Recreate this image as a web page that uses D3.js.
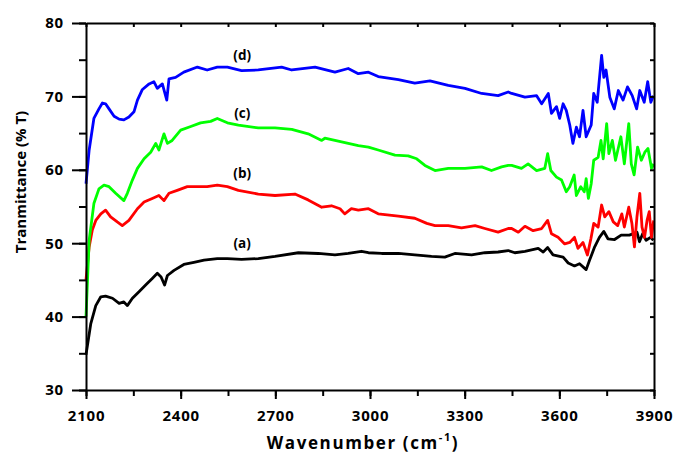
<!DOCTYPE html>
<html lang="en">
<head>
<meta charset="UTF-8">
<title>Transmittance spectra</title>
<script src="https://d3js.org/d3.v7.min.js"></script>
<style>
    body { margin: 0; background: #fff; }
    svg text { font-family: 'Open Sans', 'DejaVu Sans', sans-serif; font-weight: bold; }
</style>
</head>
<body>
<div id="chart"></div>
<script>
// wavenumber / transmittance pairs
var curveA = [[2100,34.8],[2115,39.0],[2131,41.5],[2147,42.7],[2162,42.8],[2184,42.5],[2205,41.8],[2220,42.0],[2231,41.5],[2247,42.5],[2268,43.4],[2289,44.3],[2310,45.2],[2326,45.9],[2338,45.4],[2349,44.3],[2358,45.6],[2379,46.3],[2410,47.1],[2442,47.4],[2474,47.7],[2516,47.9],[2548,47.9],[2593,47.8],[2646,47.9],[2699,48.2],[2773,48.7],[2836,48.6],[2889,48.4],[2931,48.6],[2973,48.9],[2995,48.7],[3037,48.6],[3090,48.6],[3142,48.4],[3195,48.2],[3237,48.1],[3269,48.6],[3322,48.4],[3364,48.7],[3406,48.8],[3438,49.0],[3459,48.7],[3491,48.9],[3533,49.3],[3549,48.8],[3563,49.4],[3580,48.4],[3612,48.1],[3628,47.3],[3648,46.9],[3664,47.2],[3685,46.4],[3696,47.7],[3712,49.5],[3727,50.8],[3741,51.6],[3754,50.6],[3775,50.5],[3796,51.1],[3822,51.1],[3846,51.5],[3854,50.2],[3864,51.3],[3875,50.4],[3889,50.8],[3898,50.4]];

var curveB = [[2100,45.0],[2110,49.5],[2120,51.8],[2131,53.1],[2147,54.0],[2162,54.5],[2178,53.6],[2199,52.9],[2215,52.4],[2236,53.1],[2263,54.7],[2284,55.6],[2310,56.1],[2331,56.5],[2347,55.8],[2363,56.8],[2389,57.2],[2421,57.7],[2453,57.7],[2484,57.7],[2516,57.9],[2548,57.7],[2583,57.2],[2646,56.7],[2699,56.5],[2762,56.7],[2804,55.9],[2847,54.9],[2878,55.1],[2905,54.7],[2920,54.0],[2941,54.7],[2963,54.5],[2995,54.7],[3026,54.0],[3090,53.7],[3142,53.4],[3180,52.7],[3206,52.4],[3248,52.4],[3290,52.1],[3333,52.4],[3364,52.0],[3406,51.5],[3438,52.0],[3449,52.0],[3470,51.5],[3491,52.3],[3517,51.7],[3544,52.0],[3563,53.1],[3575,51.3],[3596,50.8],[3617,49.9],[3633,50.1],[3648,50.8],[3659,49.3],[3675,50.1],[3689,48.4],[3700,50.6],[3709,52.7],[3723,52.2],[3734,55.2],[3744,53.6],[3757,54.3],[3771,52.9],[3785,52.4],[3798,54.0],[3806,52.2],[3820,54.9],[3830,52.7],[3838,49.5],[3846,53.6],[3855,56.8],[3862,52.2],[3870,50.8],[3878,53.1],[3885,54.3],[3892,50.8],[3899,53.1]];

var curveC = [[2100,40.0],[2110,50.4],[2125,55.4],[2141,57.4],[2157,57.9],[2173,57.7],[2194,56.8],[2220,55.8],[2231,56.8],[2247,58.6],[2263,60.2],[2284,61.5],[2305,62.4],[2321,63.6],[2331,62.7],[2347,64.9],[2358,63.6],[2373,64.0],[2400,65.4],[2432,65.9],[2463,66.4],[2495,66.6],[2516,67.0],[2548,66.4],[2583,66.1],[2646,65.7],[2699,65.7],[2752,65.5],[2804,64.9],[2847,64.0],[2857,64.3],[2910,63.8],[2963,63.3],[2995,63.1],[3026,62.7],[3079,62.0],[3121,61.9],[3148,61.5],[3174,60.6],[3206,59.9],[3248,60.2],[3301,60.2],[3354,60.4],[3385,59.9],[3417,60.4],[3438,60.6],[3449,60.6],[3480,60.2],[3501,60.8],[3528,59.9],[3554,60.2],[3563,62.2],[3573,59.9],[3591,59.0],[3607,58.6],[3622,57.0],[3633,57.7],[3647,59.3],[3654,56.5],[3668,57.7],[3679,57.0],[3685,58.8],[3692,56.1],[3701,58.1],[3709,61.3],[3723,61.7],[3732,64.0],[3739,61.5],[3750,66.3],[3757,62.2],[3768,64.0],[3778,61.3],[3795,64.5],[3806,60.8],[3820,66.3],[3828,60.8],[3837,59.3],[3848,63.1],[3860,61.3],[3871,62.4],[3881,62.9],[3892,60.2],[3899,60.8]];

var curveD = [[2100,58.1],[2110,62.7],[2125,67.0],[2141,68.3],[2152,69.1],[2162,69.0],[2173,68.3],[2189,67.3],[2205,66.9],[2220,66.8],[2236,67.2],[2252,67.9],[2263,69.5],[2278,70.9],[2300,71.7],[2315,72.0],[2326,71.1],[2342,71.7],[2356,69.5],[2363,72.4],[2384,72.6],[2410,73.3],[2453,74.0],[2484,73.6],[2516,74.0],[2548,74.0],[2593,73.5],[2646,73.6],[2720,74.0],[2752,73.6],[2826,74.0],[2889,73.3],[2931,73.8],[2963,73.1],[2995,73.3],[3026,72.7],[3090,72.3],[3142,71.8],[3190,72.1],[3248,71.5],[3301,71.1],[3354,70.4],[3406,70.1],[3438,70.6],[3449,70.4],[3491,69.9],[3528,70.1],[3544,69.0],[3565,70.4],[3575,67.7],[3591,68.6],[3601,67.0],[3612,69.0],[3622,68.1],[3633,66.1],[3643,63.6],[3654,65.8],[3664,64.5],[3675,68.1],[3685,64.5],[3701,66.1],[3709,70.4],[3720,69.2],[3734,75.6],[3741,72.6],[3748,73.6],[3760,69.9],[3774,68.3],[3787,70.8],[3802,69.5],[3816,71.3],[3831,70.1],[3845,68.3],[3855,70.8],[3869,69.2],[3880,72.0],[3890,69.2],[3898,70.1]];

var curves = [curveA, curveB, curveC, curveD];
var curveColors = ["#000000", "#ff0000", "#00ff00", "#0000ff"];
var curveNames = ["(a)", "(b)", "(c)", "(d)"];
var labelSpots = [[2595, 50.0], [2595, 59.5], [2595, 67.7], [2595, 75.6]];

var xMajor = [2100, 2400, 2700, 3000, 3300, 3600, 3900];
var yMajor = [30, 40, 50, 60, 70, 80];

var W = 676, H = 453;
var margin = {left: 86, right: 22, top: 23, bottom: 63};

var svg = d3.select("#chart").append("svg")
    .attr("width", W).attr("height", H);

var x = d3.scaleLinear().domain([2100, 3900]).range([margin.left, W - margin.right]);
var y = d3.scaleLinear().domain([30, 80]).range([H - margin.bottom, margin.top]);

var xMinor = d3.range(2100, 3901, 150);
var yMinor = d3.range(30, 81, 5);

// lines
var line = d3.line().x(d => x(d[0])).y(d => y(d[1]));
svg.selectAll("path.curve")
    .data(curves)
    .enter().append("path")
    .attr("class", "curve")
    .attr("d", line)
    .attr("fill", "none")
    .attr("stroke", (d, i) => curveColors[i])
    .attr("stroke-width", 2.8)
    .attr("stroke-linejoin", "round");

// axes
function styleAxis(g) {
    g.selectAll(".domain").attr("stroke", "#000").attr("stroke-width", 2);
    g.selectAll(".tick line").attr("stroke", "#000").attr("stroke-width", 2);
}

var bottomAx = svg.append("g").attr("transform", "translate(0," + (H - margin.bottom) + ")");
bottomAx.call(d3.axisBottom(x).tickValues(xMinor).tickSize(6).tickFormat("").tickSizeOuter(0));
bottomAx.append("g").call(d3.axisBottom(x).tickValues(xMajor).tickSize(9).tickSizeOuter(0).tickFormat(d3.format("d")).tickPadding(11))
    .selectAll("text").attr("fill", "#000").style("font-size", "15px").style("letter-spacing", "0.8px");
bottomAx.selectAll("g g .domain").remove();
styleAxis(bottomAx);

var leftAx = svg.append("g").attr("transform", "translate(" + margin.left + ",0)");
leftAx.call(d3.axisLeft(y).tickValues(yMinor).tickSize(7).tickFormat("").tickSizeOuter(0));
leftAx.append("g").call(d3.axisLeft(y).tickValues(yMajor).tickSize(14).tickSizeOuter(0).tickPadding(8))
    .selectAll("text").attr("fill", "#000").style("font-size", "15px").style("letter-spacing", "0.8px");
leftAx.selectAll("g g .domain").remove();
styleAxis(leftAx);

var topAx = svg.append("g").attr("transform", "translate(0," + margin.top + ")");
topAx.call(d3.axisTop(x).tickValues(xMinor).tickSize(-4).tickFormat("").tickSizeOuter(0));
styleAxis(topAx);

var rightAx = svg.append("g").attr("transform", "translate(" + (W - margin.right) + ",0)");
rightAx.call(d3.axisRight(y).tickValues(yMinor).tickSize(-4).tickFormat("").tickSizeOuter(0));
styleAxis(rightAx);

// curve labels
svg.selectAll("text.tag")
    .data(labelSpots)
    .enter().append("text")
    .attr("class", "tag")
    .attr("x", d => x(d[0]))
    .attr("y", d => y(d[1]))
    .attr("text-anchor", "middle")
    .attr("dominant-baseline", "central")
    .style("font-size", "13.5px")
    .text((d, i) => curveNames[i]);

// axis titles
var xt = svg.append("text")
    .attr("x", 363).attr("y", 449)
    .attr("text-anchor", "middle")
    .style("font-size", "17px")
    .style("letter-spacing", "1.6px");
xt.append("tspan").text("Wavenumber (cm");
xt.append("tspan").attr("dy", -8).style("font-size", "11px").text("-1");
xt.append("tspan").attr("dy", 8).text(")");

svg.append("text")
    .attr("transform", "translate(26,182) rotate(-90)")
    .attr("text-anchor", "middle")
    .style("font-size", "15px")
    .text("Tranmittance (% T)");
</script>
</body>
</html>
